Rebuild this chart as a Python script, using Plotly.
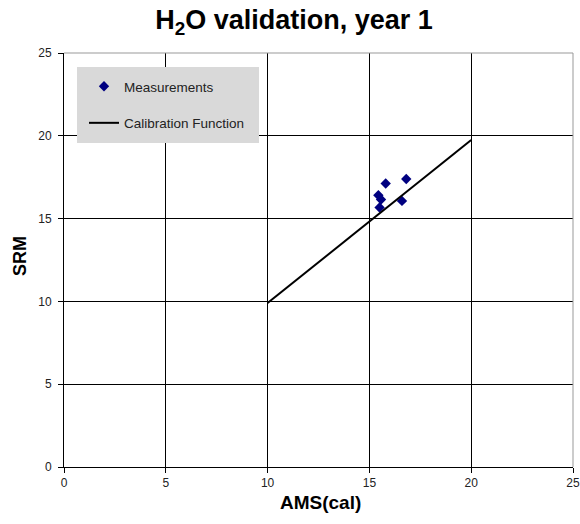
import plotly.graph_objects as go

# Data
meas_x = [15.80, 16.81, 15.44, 15.57, 15.50, 16.60]
meas_y = [17.12, 17.39, 16.41, 16.15, 15.67, 16.07]
calib_x = [10, 20]
calib_y = [9.9, 19.75]
tick_vals = [0, 5, 10, 15, 20, 25]

FONT = "Arial, Liberation Sans, sans-serif"

# plot area in pixels
L, R, T, B = 64, 573, 53, 467
W, H = R - L, B - T


def px(x):
    return (x - L) / W


def py(y):
    return (B - y) / H


fig = go.Figure()
fig.add_trace(go.Scatter(
    x=meas_x, y=meas_y, mode="markers", name="Measurements",
    legendgroup="a",
    marker=dict(symbol="diamond", color="#000080", size=8, line=dict(width=0)),
))
fig.add_trace(go.Scatter(
    x=calib_x, y=calib_y, mode="lines", name="Calibration Function",
    legendgroup="b",
    line=dict(color="black", width=2),
))

axis_common = dict(
    range=[0, 25], tickvals=tick_vals, showgrid=True, gridcolor="black", gridwidth=1,
    zeroline=False, showline=True, linecolor="black", linewidth=1,
    ticks="outside", ticklen=5, tickcolor="black", automargin=False,
    tickfont=dict(family=FONT, size=12, color="#222"),
)

fig.update_layout(
    width=580, height=524,
    margin=dict(l=L, r=580 - R, t=T, b=524 - B),
    paper_bgcolor="white", plot_bgcolor="white",
    font=dict(family=FONT),
    title=dict(text="<b>H<sub>2</sub>O validation, year 1</b>",
               x=294 / 580, xref="container", xanchor="center",
               y=1 - 20 / 524, yref="container", yanchor="middle",
               font=dict(family=FONT, size=27, color="black")),
    xaxis=dict(**axis_common),
    yaxis=dict(**axis_common, ticklabelstandoff=4),
    showlegend=True,
    legend=dict(x=px(84), y=py(71), xanchor="left", yanchor="top",
                bgcolor="rgba(0,0,0,0)", borderwidth=0,
                font=dict(family=FONT, size=13.5, color="#222"),
                tracegroupgap=16, itemwidth=30),
    shapes=[
        dict(type="rect", xref="paper", yref="paper",
             x0=px(77), x1=px(259), y0=py(143), y1=py(67),
             fillcolor="#d9d9d9", line=dict(width=0), layer="above"),
        dict(type="line", xref="paper", yref="paper", x0=0, x1=1, y0=1, y1=1,
             line=dict(color="#999999", width=1), layer="above"),
        dict(type="line", xref="paper", yref="paper", x0=1, x1=1, y0=0, y1=1,
             line=dict(color="#999999", width=1), layer="above"),
    ],
    annotations=[
        dict(text="<b>AMS(cal)</b>", xref="paper", yref="paper",
             x=px(320), y=py(502), xanchor="center", yanchor="middle",
             showarrow=False, font=dict(family=FONT, size=19, color="black")),
        dict(text="<b>SRM</b>", xref="paper", yref="paper", textangle=-90,
             x=px(20), y=py(256), xanchor="center", yanchor="middle",
             showarrow=False, font=dict(family=FONT, size=18, color="black")),
    ],
)

fig.write_html(
    "out.html",
    config={"displayModeBar": False},
    post_script="document.body.style.margin='0';document.body.style.overflow='hidden';",
)
